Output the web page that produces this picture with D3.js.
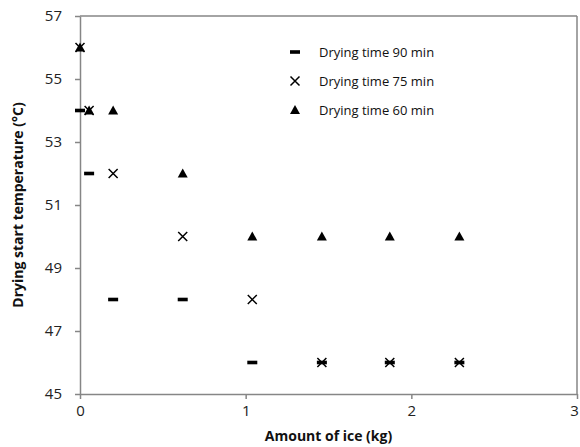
<!DOCTYPE html>
<html>
<head>
<meta charset="utf-8">
<script src="https://cdn.jsdelivr.net/npm/d3@7"></script>
<style>
  body { margin: 0; background: #fff; }
  text { font-family: "Open Sans", "Noto Sans", sans-serif; }
</style>
</head>
<body>
<div id="chart"></div>
<script>
// amount of ice (kg) — same for every series
const iceKg = [0, 0.055, 0.2, 0.62, 1.04, 1.46, 1.87, 2.29];

// drying start temperature (°C)
const time90 = [54, 52, 48, 48, 46, 46, 46, 46];
const time75 = [56, 54, 52, 50, 48, 46, 46, 46];
const time60 = [56, 54, 54, 52, 50, 50, 50, 50];

const seriesNames = ["Drying time 90 min", "Drying time 75 min", "Drying time 60 min"];
const seriesKinds = ["dash", "cross", "triangle"];

const xTicks = [0, 1, 2, 3];
const yTicks = [45, 47, 49, 51, 53, 55, 57];

const width = 580, height = 447;
const margin = {top: 16, right: 3, bottom: 53, left: 80};
const w = width - margin.left - margin.right;
const h = height - margin.top - margin.bottom;

const svg = d3.select("#chart").append("svg")
    .attr("width", width)
    .attr("height", height);

const g = svg.append("g")
    .attr("transform", "translate(" + margin.left + "," + margin.top + ")");

const x = d3.scaleLinear().domain([0, 3]).range([0, w]);
const y = d3.scaleLinear().domain([45, 57]).range([h, 0]);

const axisColor = "#868686";

// frame (top + right)
g.append("line").attr("x1", 0).attr("x2", w).attr("y1", 0).attr("y2", 0)
    .attr("stroke", axisColor).attr("stroke-width", 1.5);
g.append("line").attr("x1", w).attr("x2", w).attr("y1", 0).attr("y2", h)
    .attr("stroke", axisColor).attr("stroke-width", 1.5);

// axes
const xAxis = g.append("g")
    .attr("transform", "translate(0," + h + ")")
    .call(d3.axisBottom(x).tickValues(xTicks).tickFormat(d3.format("d")).tickSize(5).tickPadding(6).tickSizeOuter(0));
const yAxis = g.append("g")
    .call(d3.axisLeft(y).tickValues(yTicks).tickFormat(d3.format("d")).tickSize(5).tickPadding(13).tickSizeOuter(0));

[xAxis, yAxis].forEach(a => {
    a.select(".domain").attr("stroke", axisColor).attr("stroke-width", 1.5);
    a.selectAll(".tick line").attr("stroke", axisColor).attr("stroke-width", 1.5);
    a.selectAll(".tick text").attr("fill", "#222").style("font-size", "15px")
        .style("font-family", "'Open Sans', sans-serif");
});

// last x label sits right at the edge, nudge it in so it is not clipped
xAxis.selectAll(".tick text").filter(d => d === 3).attr("dx", -3);

// axis titles
svg.append("text")
    .attr("x", margin.left + w / 2)
    .attr("y", 441)
    .attr("text-anchor", "middle")
    .style("font-size", "14px")
    .style("font-weight", "bold")
    .attr("fill", "#111")
    .text("Amount of ice (kg)");

svg.append("text")
    .attr("transform", "translate(23," + (margin.top + h / 2) + ") rotate(-90)")
    .attr("text-anchor", "middle")
    .style("font-size", "14px")
    .style("font-weight", "bold")
    .attr("fill", "#111")
    .text("Drying start temperature (°C)");

// marker drawing
function drawMarker(sel, kind) {
    if (kind === "dash") {
        sel.append("rect").attr("x", -5).attr("y", -1.8).attr("width", 10).attr("height", 3.6).attr("fill", "#000");
    } else if (kind === "cross") {
        sel.append("path").attr("d", "M-4.5,-4.5L4.5,4.5M-4.5,4.5L4.5,-4.5")
            .attr("stroke", "#000").attr("stroke-width", 1.5).attr("fill", "none");
    } else {
        sel.append("path").attr("d", "M0,-5L5,4L-5,4Z").attr("fill", "#000");
    }
}

const allSeries = [time90, time75, time60];
allSeries.forEach((vals, i) => {
    const pts = g.append("g").selectAll("g")
        .data(vals.map((v, j) => ({x: iceKg[j], y: v})))
        .join("g")
        .attr("transform", d => "translate(" + x(d.x) + "," + y(d.y) + ")");
    drawMarker(pts, seriesKinds[i]);
});

// legend
const legend = svg.append("g").attr("transform", "translate(295,52)");
seriesNames.forEach((name, i) => {
    const row = legend.append("g").attr("transform", "translate(0," + (i * 29) + ")");
    drawMarker(row.append("g"), seriesKinds[i]);
    row.append("text")
        .attr("x", 24)
        .attr("dy", "0.35em")
        .style("font-size", "13px")
        .attr("fill", "#111")
        .text(name);
});
</script>
</body>
</html>
